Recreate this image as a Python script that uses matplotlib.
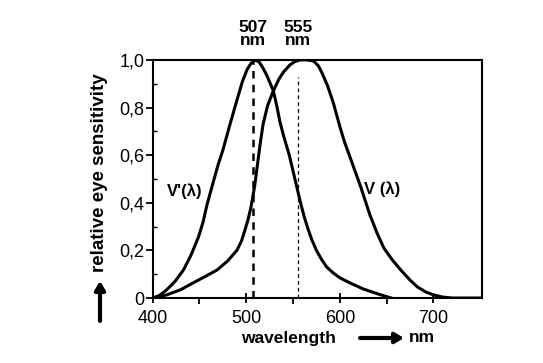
import numpy as np
import matplotlib
matplotlib.use('Agg')
import matplotlib.pyplot as plt
from matplotlib.ticker import FixedLocator, FuncFormatter
from matplotlib.patches import FancyArrowPatch

plt.rcParams['font.family'] = 'Liberation Sans'
plt.rcParams['font.size'] = 13

# scotopic V'(lambda)
scot_wl = [400, 407, 415, 424, 433, 441, 449, 454, 458, 465, 470, 475, 482, 490,
           496, 501, 505, 510, 514, 518, 522, 529, 533, 536, 540, 546, 552, 558,
           562, 566, 570, 575, 580, 586, 593, 600, 611, 625, 640, 648, 655]
scot_v = [0.0, 0.01, 0.034, 0.07, 0.118, 0.18, 0.256, 0.32, 0.39, 0.49, 0.56, 0.62,
          0.72, 0.83, 0.91, 0.96, 0.985, 1.0, 0.99, 0.965, 0.935, 0.87, 0.80, 0.74,
          0.68, 0.60, 0.50, 0.40, 0.34, 0.29, 0.245, 0.20, 0.165, 0.13, 0.105, 0.085,
          0.063, 0.038, 0.018, 0.008, 0.0]

# photopic V(lambda)
phot_wl = [400, 407, 415, 430, 443, 456, 469, 480, 490, 495, 499, 502, 505, 509,
           512, 515, 518, 523, 529, 535, 540, 547, 552, 558, 565, 572, 577, 581,
           587, 593, 600, 605, 611, 622, 632, 640, 647, 656, 665, 675, 683, 692,
           700, 710, 720, 752]
phot_v = [0.0, 0.006, 0.013, 0.035, 0.063, 0.09, 0.118, 0.155, 0.20, 0.24, 0.29,
          0.33, 0.38, 0.47, 0.56, 0.65, 0.73, 0.81, 0.87, 0.92, 0.95, 0.98, 0.993,
          1.0, 1.0, 0.995, 0.975, 0.945, 0.89, 0.82, 0.72, 0.655, 0.59, 0.47, 0.35,
          0.27, 0.21, 0.16, 0.118, 0.075, 0.046, 0.025, 0.013, 0.004, 0.0, 0.0]

peaks = [507, 555]
peak_tops = [1.0, 0.93]

fig = plt.figure(figsize=(5.43, 3.63), dpi=100)
ax = fig.add_axes([0.281, 0.179, 0.607, 0.656])

ax.plot(phot_wl, phot_v, c='black', lw=2.2, solid_joinstyle='round')
ax.plot(scot_wl, scot_v, c='black', lw=2.2, solid_joinstyle='round')
ax.plot([peaks[0], peaks[0]], [0, peak_tops[0]], c='black', lw=1.8, dashes=(3, 2.5))
ax.plot([peaks[1], peaks[1]], [0, peak_tops[1]], c='black', lw=0.9, dashes=(3, 2.5))

ax.set_xlim(400, 752)
ax.set_ylim(0, 1.0)
for s in ax.spines.values():
    s.set_linewidth(1.5)

ax.xaxis.set_major_locator(FixedLocator([400, 500, 600, 700]))
ax.xaxis.set_minor_locator(FixedLocator([450, 550, 650]))
ax.yaxis.set_major_locator(FixedLocator([0, 0.2, 0.4, 0.6, 0.8, 1.0]))
ax.yaxis.set_minor_locator(FixedLocator([0.1, 0.3, 0.5, 0.7, 0.9]))
ax.yaxis.set_major_formatter(FuncFormatter(lambda v, p: '0' if v == 0 else f'{v:.1f}'.replace('.', ',')))
ax.tick_params(axis='x', which='major', direction='inout', length=7, width=1.3, pad=5)
ax.tick_params(axis='x', which='minor', direction='out', length=4, width=1.3)
ax.tick_params(axis='y', which='major', direction='out', length=5, width=1.3, pad=1)
ax.tick_params(axis='y', which='minor', direction='in', length=3, width=1.0)

for wl in peaks:
    ax.text(wl, 1.05, f'{wl}\nnm', ha='center', va='bottom', fontsize=12.5,
            fontweight='bold', linespacing=0.8)

ax.text(434, 0.45, "V'(λ)", ha='center', va='center', fontsize=12, fontweight='bold')
ax.text(645, 0.455, "V (λ)", ha='center', va='center', fontsize=12, fontweight='bold')

# axis labels with arrows
fig.text(100 / 543, 1 - 173 / 363, 'relative eye sensitivity', rotation=90,
         ha='center', va='center', fontsize=13.5, fontweight='bold')
fig.text(288 / 543, 1 - 338 / 363, 'wavelength', ha='center', va='center',
         fontsize=12.5, fontweight='bold')
fig.text(422 / 543, 1 - 338 / 363, 'nm', ha='center', va='center',
         fontsize=12.5, fontweight='bold')
fig.add_artist(FancyArrowPatch(
    (100 / 543, 1 - 321 / 363), (100 / 543, 1 - 281 / 363),
    transform=fig.transFigure, arrowstyle='-|>,head_length=5,head_width=3',
    lw=3, color='black', shrinkA=0, shrinkB=0))
fig.add_artist(FancyArrowPatch(
    (360 / 543, 1 - 338 / 363), (404 / 543, 1 - 338 / 363),
    transform=fig.transFigure, arrowstyle='-|>,head_length=5,head_width=3',
    lw=3, color='black', shrinkA=0, shrinkB=0))

fig.savefig('out.png', dpi=100)
